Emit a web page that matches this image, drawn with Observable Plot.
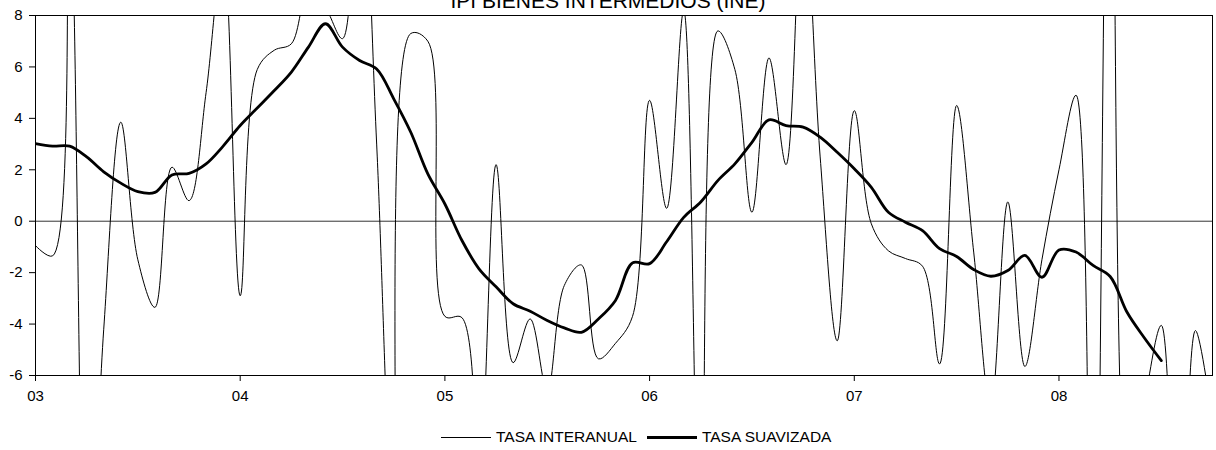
<!DOCTYPE html>
<html><head><meta charset="utf-8">
<script src="https://cdn.jsdelivr.net/npm/d3@7"></script>
<script src="https://cdn.jsdelivr.net/npm/@observablehq/plot@0.6"></script>
<style>
body{margin:0;background:#fff;font-family:"Liberation Sans",Arial,sans-serif;}
#wrap{position:relative;width:1216px;height:450px;overflow:hidden;background:#fff;}
#chart{position:absolute;left:0;top:0;}
#title{position:absolute;left:0;width:1216px;text-align:center;top:-10px;font-size:21px;line-height:21px;color:#000;white-space:nowrap;}
#legend{position:absolute;top:428px;left:441px;display:flex;align-items:center;font-size:15.5px;line-height:18px;white-space:nowrap;color:#000;}
.sw{width:50px;height:0;margin-right:5px;}
.gap{width:10px;}
</style></head><body>
<div id="wrap">
<div id="chart"></div>
<div id="title">IPI BIENES INTERMEDIOS (INE)</div>
<div id="legend"></div>
</div>
<script>
// Month index 0 = Jan 2003
const xTickMonths = [0, 12, 24, 36, 48, 60];
const xTickLabels = ["03", "04", "05", "06", "07", "08"];
const yTicks = [-6, -4, -2, 0, 2, 4, 6, 8];
const seriesNames = ["TASA INTERANUAL", "TASA SUAVIZADA"];

// TASA INTERANUAL (monthly, Jan 2003 - Oct 2008)
const tasaInteranual = [
  -0.95, -1.35, 12.5, -16, -4.2, 3.85, -1.5, -3.35, 2.1, 0.8,
  5.0, 10.5, -2.9, 5.9, 6.65, 6.9, 9.0, 8.3, 7.1, 16,
  3, -12, 7.3, 7.0, -3.7, -3.75, -9.8, 2.2, -5.5, -3.8,
  -6.6, -2.5, -1.7, -5.35, -4.75, -3.7, 4.7, 0.5, 8.2, -15,
  7.4, 5.9, 0.35, 6.35, 2.2, 13, 2.5, -4.65, 4.3, -0.1,
  -1.15, -1.45, -1.75, -5.55, 4.5, -1.2, -7.3, 0.75, -5.65, -1.5,
  2.0, 4.9, -21, 23, -11, -7.1, -4.05, -16, -4.25, -7.8
];

// TASA SUAVIZADA (monthly, Jan 2003 - Jul 2008)
const tasaSuavizada = [
  3.02, 2.92, 2.92, 2.5, 1.92, 1.48, 1.15, 1.12, 1.8, 1.86,
  2.23, 2.92, 3.72, 4.4, 5.08, 5.8, 6.77, 7.68, 6.77, 6.25,
  5.92, 4.76, 3.46, 1.84, 0.67, -0.75, -1.85, -2.55, -3.21, -3.5,
  -3.86, -4.15, -4.32, -3.8, -3.08, -1.62, -1.65, -0.8, 0.15, 0.75,
  1.58, 2.23, 3.07, 3.94, 3.72, 3.66, 3.27, 2.68, 2.04, 1.32,
  0.35, -0.04, -0.37, -1.07, -1.37, -1.88, -2.14, -1.92, -1.33, -2.18,
  -1.12, -1.2, -1.72, -2.15, -3.55, -4.53, -5.42
];

const thinData = tasaInteranual.map((v, i) => ({month: i, value: v}));
const thickData = tasaSuavizada.map((v, i) => ({month: i, value: v}));

const chart = Plot.plot({
  width: 1216,
  height: 410,
  marginTop: 15,
  marginRight: 4,
  marginBottom: 35,
  marginLeft: 35,
  style: {fontFamily: "'Liberation Sans', Arial, sans-serif", fontSize: "15px", color: "#000", background: "#fff", overflow: "visible"},
  x: {domain: [0, tasaInteranual.length - 1], ticks: xTickMonths, tickFormat: d => xTickLabels[xTickMonths.indexOf(d)], tickSize: 6, tickPadding: 9, label: null},
  y: {domain: [-6, 8], ticks: yTicks, tickFormat: d => String(d), tickSize: 6, tickPadding: 7, label: null},
  marks: [
    Plot.ruleY([0], {stroke: "#333", strokeWidth: 1}),
    Plot.line(thinData, {x: "month", y: "value", curve: "catmull-rom", stroke: "#000", strokeWidth: 1, clip: true}),
    Plot.line(thickData, {x: "month", y: "value", curve: "catmull-rom", stroke: "#000", strokeWidth: 2.8, clip: true}),
    Plot.frame({stroke: "#000", strokeWidth: 1})
  ]
});
document.getElementById("chart").appendChild(chart);

const legend = document.getElementById("legend");
const widths = [1, 3];
seriesNames.forEach((name, k) => {
  if (k > 0) { const g = document.createElement("div"); g.className = "gap"; legend.appendChild(g); }
  const sw = document.createElement("div");
  sw.className = "sw";
  sw.style.borderTop = widths[k] + "px solid #000";
  legend.appendChild(sw);
  const t = document.createElement("span");
  t.textContent = name;
  legend.appendChild(t);
});
</script>
</body></html>
